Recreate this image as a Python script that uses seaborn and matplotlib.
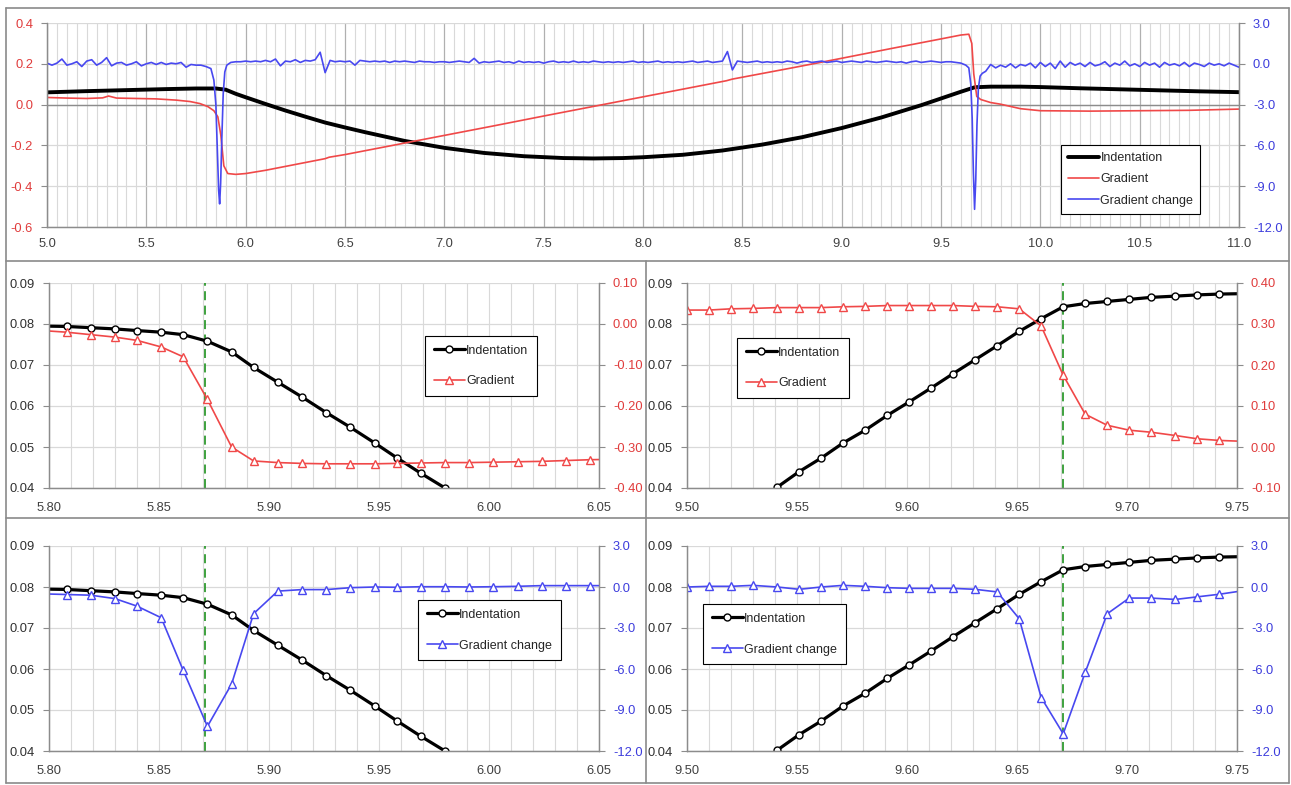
import numpy as np
import pandas as pd
import matplotlib
matplotlib.use("Agg")
import matplotlib.pyplot as plt
import seaborn as sns
from matplotlib.ticker import MultipleLocator, FormatStrFormatter
from matplotlib.lines import Line2D

sns.set_theme(style="white")
plt.rcParams['font.family'] = ['Liberation Sans', 'DejaVu Sans']

# ---------------- DATA: overview panel ----------------
ind_x = [5.0, 5.2, 5.4, 5.6, 5.75, 5.85, 5.9, 5.95, 6.0, 6.1, 6.2, 6.3, 6.4, 6.5, 6.6,
         6.8, 7.0, 7.2, 7.4, 7.6, 7.75, 7.9, 8.0, 8.2, 8.4, 8.6, 8.8, 9.0, 9.2, 9.4,
         9.5, 9.6, 9.67, 9.75, 9.9, 10.0, 10.2, 10.4, 10.6, 10.8, 11.0]
ind_y = [0.060, 0.066, 0.071, 0.076, 0.079, 0.079, 0.073, 0.053, 0.036, 0.003, -0.029,
         -0.059, -0.088, -0.112, -0.135, -0.178, -0.212, -0.237, -0.253, -0.262, -0.264,
         -0.262, -0.258, -0.246, -0.225, -0.196, -0.160, -0.115, -0.063, -0.003, 0.030,
         0.063, 0.085, 0.088, 0.088, 0.086, 0.080, 0.075, 0.070, 0.065, 0.061]

grad_x = [5.0, 5.1, 5.2, 5.28, 5.31, 5.35, 5.45, 5.55, 5.65, 5.72, 5.77, 5.81, 5.84,
          5.86, 5.875, 5.89, 5.91, 5.95, 6.0, 6.1, 6.2, 6.3, 6.4, 6.42, 6.5, 6.75, 7.0,
          7.25, 7.5, 7.75, 8.0, 8.25, 8.42, 8.45, 8.75, 9.0, 9.25, 9.5, 9.6, 9.64,
          9.655, 9.665, 9.68, 9.7, 9.75, 9.8, 9.9, 10.0, 10.25, 10.5, 10.75, 11.0]
grad_y = [0.035, 0.032, 0.030, 0.033, 0.042, 0.032, 0.030, 0.028, 0.022, 0.015, 0.005,
          -0.010, -0.030, -0.060, -0.150, -0.300, -0.338, -0.342, -0.338, -0.322, -0.303,
          -0.284, -0.265, -0.258, -0.245, -0.198, -0.151, -0.104, -0.056, -0.009, 0.038,
          0.085, 0.117, 0.125, 0.180, 0.227, 0.275, 0.322, 0.341, 0.345, 0.300, 0.150,
          0.040, 0.025, 0.010, 0.002, -0.020, -0.030, -0.032, -0.030, -0.028, -0.022]

# gradient change (right axis), sampled every 0.025 outside the two dips
chg_a_y = [0.05, -0.10, 0.05, 0.35, -0.10, 0.00, 0.15, -0.20, 0.20, 0.30,
           -0.10, 0.10, 0.45, -0.15, 0.05, 0.10, -0.10, 0.00, 0.15, -0.15,
           0.00, 0.10, -0.05, 0.10, -0.05, 0.05, 0.00, 0.10, -0.25, -0.05,
           -0.10, -0.10, -0.20, -0.35]
dip1_x = [5.840, 5.850, 5.858, 5.864, 5.869, 5.874, 5.880, 5.887, 5.895, 5.905]
dip1_y = [-1.2, -3.0, -6.5, -9.3, -10.3, -8.8, -5.5, -2.2, -0.6, -0.1]
chg_b_y = [0.10, 0.15, 0.15, 0.20, 0.15, 0.20, 0.15, 0.25, 0.15, 0.35,
           -0.15, 0.20, 0.15, 0.30, 0.10, 0.25, 0.20, 0.30, 0.85, -0.65,
           0.25, 0.15, 0.20, 0.15, 0.20, -0.10, 0.25, 0.20, 0.15, 0.20,
           0.15, 0.20, 0.10, 0.20, 0.15, 0.20, 0.15, 0.10, 0.20, 0.15,
           0.15, 0.10, 0.15, 0.15, 0.10, 0.15, 0.20, 0.15, 0.10, 0.40,
           0.05, 0.15, 0.10, 0.15, 0.20, 0.10, 0.15, 0.05, 0.20, 0.10,
           0.15, 0.10, 0.15, 0.05, 0.15, 0.20, 0.10, 0.15, 0.10, 0.20,
           0.10, 0.15, 0.10, 0.20, 0.15, 0.10, 0.15, 0.10, 0.15, 0.10,
           0.15, 0.20, 0.10, 0.15, 0.10, 0.15, 0.20, 0.10, 0.15, 0.10,
           0.15, 0.10, 0.15, 0.20, 0.10, 0.15, 0.20, 0.10, 0.15, 0.20,
           0.90, -0.45, 0.20, 0.15, 0.10, 0.15, 0.20, 0.10, 0.15, 0.10,
           0.15, 0.10, 0.20, 0.15, 0.05, 0.15, 0.20, 0.10, 0.15, 0.20,
           0.10, 0.15, 0.20, 0.10, 0.15, 0.20, 0.15, 0.10, 0.20, 0.15,
           0.10, 0.15, 0.20, 0.15, 0.10, 0.15, 0.05, 0.15, 0.20, 0.10,
           0.15, 0.20, 0.15, 0.10, 0.15, 0.15, 0.10, 0.05, -0.10]
dip2_x = [9.640, 9.650, 9.657, 9.663, 9.669, 9.675, 9.681, 9.688, 9.697, 9.708]
dip2_y = [-0.3, -1.5, -4.0, -8.0, -10.7, -8.5, -4.5, -1.8, -0.9, -0.7]
chg_c_y = [-0.55, -0.05, -0.30, -0.10, -0.25, 0.00, -0.30, -0.05, -0.15, 0.05,
           -0.30, 0.10, -0.20, 0.05, -0.35, 0.20, -0.25, 0.10, -0.10, 0.05,
           -0.20, 0.10, -0.15, -0.05, 0.15, -0.20, 0.05, -0.10, 0.20, -0.15,
           0.00, -0.20, 0.10, -0.10, 0.05, -0.25, 0.10, -0.10, 0.00, -0.15,
           0.10, -0.20, 0.05, -0.05, -0.20, 0.05, -0.10, 0.00, -0.15, 0.05,
           -0.10, -0.25]
chg_a_x = np.round(np.linspace(5.000, 5.825, len(chg_a_y)), 3)
chg_b_x = np.round(np.linspace(5.925, 9.625, len(chg_b_y)), 3)
chg_c_x = np.round(np.linspace(9.725, 11.000, len(chg_c_y)), 3)
chg_x = np.concatenate([chg_a_x, dip1_x, chg_b_x, dip2_x, chg_c_x])
chg_y = np.concatenate([chg_a_y, dip1_y, chg_b_y, dip2_y, chg_c_y])

# ---------------- DATA: zoomed panels ----------------
edge1_x = [5.797, 5.808, 5.819, 5.830, 5.840, 5.851, 5.861, 5.872, 5.883, 5.893, 5.904,
           5.915, 5.926, 5.937, 5.948, 5.958, 5.969, 5.980, 5.991, 6.002, 6.013, 6.024,
           6.035, 6.046, 6.057]
edge1_ind = [0.0795, 0.0794, 0.0791, 0.0788, 0.0784, 0.0780, 0.0774, 0.0758, 0.0732,
             0.0694, 0.0658, 0.0622, 0.0584, 0.0548, 0.0510, 0.0474, 0.0436, 0.0400]
edge1_grad = [-0.016, -0.020, -0.026, -0.032, -0.040, -0.056, -0.080, -0.184, -0.300,
              -0.334, -0.338, -0.340, -0.341, -0.341, -0.341, -0.340, -0.339, -0.338,
              -0.338, -0.337, -0.336, -0.335, -0.333, -0.331, -0.330]
edge1_chg = [-0.50, -0.55, -0.60, -0.85, -1.40, -2.25, -6.1, -10.2, -7.1, -1.95, -0.30,
             -0.19, -0.19, -0.05, 0.00, -0.02, 0.02, 0.02, 0.00, 0.02, 0.05, 0.10, 0.10,
             0.10, 0.10]

edge2_x = [9.500, 9.510, 9.520, 9.530, 9.541, 9.551, 9.561, 9.571, 9.581, 9.591, 9.601,
           9.611, 9.621, 9.631, 9.641, 9.651, 9.661, 9.671, 9.681, 9.691, 9.701, 9.711,
           9.722, 9.732, 9.742, 9.752]
edge2_ind = [0.0402, 0.0440, 0.0473, 0.0510, 0.0541, 0.0577, 0.0610, 0.0644, 0.0679,
             0.0713, 0.0747, 0.0782, 0.0813, 0.0842, 0.0850, 0.0855, 0.0860, 0.0865,
             0.0868, 0.0871, 0.0873, 0.0874]
edge2_grad = [0.334, 0.334, 0.337, 0.338, 0.340, 0.340, 0.340, 0.342, 0.343, 0.345,
              0.345, 0.345, 0.345, 0.343, 0.342, 0.337, 0.295, 0.175, 0.080, 0.053,
              0.041, 0.036, 0.028, 0.020, 0.016, 0.014]
edge2_chg = [0.00, 0.05, 0.05, 0.12, 0.00, -0.17, 0.00, 0.12, 0.05, -0.05, -0.10, -0.10,
             -0.10, -0.17, -0.36, -2.32, -8.09, -10.74, -6.25, -1.96, -0.81, -0.81, -0.91,
             -0.72, -0.53, -0.29]

edge1_mark = 5.871
edge2_mark = 9.671

# ---------------- STYLE ----------------
RED = '#f04848'
BLUE = '#4848f0'
RED_T = '#e03c3c'
BLUE_T = '#3c3cdc'
GRID_MIN = '#d9d9d9'
GRID_MAJ = '#b0b0b0'
AXC = '#8c8c8c'
FS = 9.3
LFS = 9

W, H = 1291, 785
fig = plt.figure(figsize=(W / 100, H / 100), dpi=100)
fig.patch.set_facecolor('white')


def make_axes(l, r, t, b):
    return fig.add_axes([l / W, 1 - b / H, (r - l) / W, (b - t) / H])


def base_style(ax, xlim, xmaj, xmin, xfmt, ylim, ystep, yfmt, ycol, xpad):
    ax.set_xlim(*xlim)
    ax.set_ylim(*ylim)
    ax.set_facecolor('white')
    ax.xaxis.set_major_locator(MultipleLocator(xmaj))
    ax.xaxis.set_minor_locator(MultipleLocator(xmin))
    ax.xaxis.set_major_formatter(FormatStrFormatter(xfmt))
    ax.yaxis.set_major_locator(MultipleLocator(ystep))
    ax.yaxis.set_major_formatter(FormatStrFormatter(yfmt))
    ax.set_axisbelow(True)
    ax.grid(which='minor', axis='x', color=GRID_MIN, lw=0.8)
    ax.grid(which='major', axis='x', color=GRID_MAJ, lw=0.9)
    ax.grid(which='major', axis='y', color=GRID_MIN, lw=0.9)
    ax.tick_params(axis='x', which='both', length=0, pad=xpad, labelsize=FS, colors='#404040')
    ax.tick_params(axis='y', which='major', length=4, width=0.8, color=AXC, pad=6,
                   labelsize=FS, labelcolor=ycol, direction='out', left=True)
    ax.tick_params(axis='y', which='minor', length=0)
    for s in ['left', 'right', 'bottom']:
        ax.spines[s].set_color(AXC)
        ax.spines[s].set_linewidth(0.9)
    ax.spines['top'].set_visible(False)
    ax.set_xlabel('')
    ax.set_ylabel('')


def twin_style(ax2, ylim, ystep, yfmt, ycol):
    ax2.set_ylim(*ylim)
    ax2.yaxis.set_major_locator(MultipleLocator(ystep))
    ax2.yaxis.set_major_formatter(FormatStrFormatter(yfmt))
    ax2.grid(False)
    ax2.tick_params(axis='y', length=4, width=0.8, color=AXC, pad=6, labelsize=FS,
                    labelcolor=ycol, direction='out', right=True)
    for s in ['left', 'right', 'bottom']:
        ax2.spines[s].set_color(AXC)
        ax2.spines[s].set_linewidth(0.9)
    ax2.spines['top'].set_visible(False)
    ax2.set_ylabel('')


def add_legend(ax, handles, labels, px, py, spacing, bpad):
    leg = ax.legend(handles, labels, loc='upper left', bbox_to_anchor=(px / W, 1 - py / H),
                    bbox_transform=fig.transFigure, fontsize=LFS, frameon=True,
                    fancybox=False, framealpha=1, edgecolor='black', labelspacing=spacing,
                    handlelength=2.5, handletextpad=0.1, borderpad=bpad, borderaxespad=0,
                    numpoints=1)
    leg.get_frame().set_linewidth(0.8)
    return leg


# ---------------- TOP PANEL ----------------
ax = make_axes(47, 1239, 23, 227)
base_style(ax, (5.0, 11.0), 0.5, 0.05, '%.1f', (-0.6, 0.4), 0.2, '%.1f', RED_T, 8)
ax.axhline(0, color='#8c8c8c', lw=1.0, zorder=1.2)
sns.lineplot(x=ind_x, y=ind_y, ax=ax, color='black', lw=2.8, estimator=None, legend=False)
sns.lineplot(x=grad_x, y=grad_y, ax=ax, color=RED, lw=1.2, estimator=None, legend=False)
ax2 = ax.twinx()
sns.lineplot(x=chg_x, y=chg_y, ax=ax2, color=BLUE, lw=1.2, estimator=None, legend=False)
twin_style(ax2, (-12.0, 3.0), 3.0, '%.1f', BLUE_T)
ax.set_xlim(5.0, 11.0)
h = [Line2D([], [], color='black', lw=2.8), Line2D([], [], color=RED, lw=1.2),
     Line2D([], [], color=BLUE, lw=1.2)]
add_legend(ax2, h, ['Indentation', 'Gradient', 'Gradient change'], 1061, 145, 0.75, 0.55)

# ---------------- ZOOM PANELS ----------------
panels = [
    (49, 599, 283, 488, (5.80, 6.05), edge1_x, 0, edge1_ind, edge1_grad, RED, (-0.40, 0.10), 0.10, '%.2f', RED_T, 'Gradient', edge1_mark, (425, 336)),
    (687, 1237, 283, 488, (9.50, 9.75), edge2_x, 4, edge2_ind, edge2_grad, RED, (-0.10, 0.40), 0.10, '%.2f', RED_T, 'Gradient', edge2_mark, (737, 338)),
    (49, 599, 546, 751, (5.80, 6.05), edge1_x, 0, edge1_ind, edge1_chg, BLUE, (-12.0, 3.0), 3.0, '%.1f', BLUE_T, 'Gradient change', edge1_mark, (418, 600)),
    (687, 1237, 546, 751, (9.50, 9.75), edge2_x, 4, edge2_ind, edge2_chg, BLUE, (-12.0, 3.0), 3.0, '%.1f', BLUE_T, 'Gradient change', edge2_mark, (703, 604)),
]

for (l, r, t, b, xlim, xs, i0, ind, sec, col, ylim2, st2, fmt2, tcol, lab, mark, lpos) in panels:
    a = make_axes(l, r, t, b)
    base_style(a, xlim, 0.05, 0.01, '%.2f', (0.04, 0.09), 0.01, '%.2f', '#303030', 10)
    a.grid(which='minor', axis='x', color=GRID_MIN, lw=0.8)
    a.grid(which='major', axis='x', color=GRID_MIN, lw=0.8)
    a.axvline(mark, color='#2f9a2f', lw=1.3, ls=(0, (5, 3)), zorder=1.5)
    ix = xs[i0:i0 + len(ind)]
    sns.lineplot(x=ix, y=ind, ax=a, color='black', lw=2.3, marker='o', markersize=5,
                 markerfacecolor='white', markeredgecolor='black', markeredgewidth=1.0,
                 estimator=None, legend=False)
    a2 = a.twinx()
    sns.lineplot(x=xs[:len(sec)], y=sec, ax=a2, color=col, lw=1.2, marker='^', markersize=6,
                 markerfacecolor='white', markeredgecolor=col, markeredgewidth=1.0,
                 estimator=None, legend=False)
    twin_style(a2, ylim2, st2, fmt2, tcol)
    a.set_xlim(*xlim)
    hh = [Line2D([], [], color='black', lw=2.3, marker='o', markersize=5, markerfacecolor='white',
                 markeredgecolor='black'),
          Line2D([], [], color=col, lw=1.2, marker='^', markersize=6, markerfacecolor='white',
                 markeredgecolor=col)]
    add_legend(a2, hh, ['Indentation', lab], lpos[0], lpos[1], 1.5, 0.7)

# ---------------- PANEL FRAMES ----------------
fc = '#8a8a8a'
frame_lines = [((6, 1289), (8, 8)), ((6, 1289), (783, 783)), ((6, 6), (8, 783)),
               ((1289, 1289), (8, 783)), ((6, 1289), (261, 261)), ((6, 1289), (518, 518)),
               ((646, 646), (261, 783))]
for xs_, ys_ in frame_lines:
    fig.add_artist(Line2D([x / W for x in xs_], [1 - y / H for y in ys_], color=fc, lw=1.2))

fig.savefig('out.png', dpi=100, facecolor='white')
